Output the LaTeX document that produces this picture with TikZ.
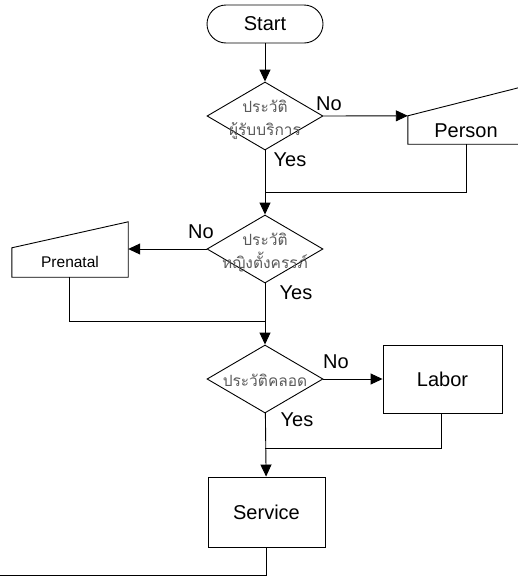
\documentclass[tikz,border=0pt]{standalone}
\usepackage{fontspec}
\setmainfont{Liberation Sans}
\newfontfamily\thaifont[Script=Thai]{Loma}
\usetikzlibrary{shapes.geometric,arrows.meta}
\definecolor{thaigray}{HTML}{5A5A5A}
\tikzset{
  every node/.style={font=\fontsize{20}{24}\selectfont},
  line/.style={draw=black, line width=0.9pt},
  flow/.style={line, -{Triangle[length=12pt,width=11pt]}},
  terminal/.style={draw, line width=0.9pt, rectangle, rounded corners=19pt,
    minimum width=116pt, minimum height=38pt, inner sep=0pt},
  decision/.style={draw, line width=0.9pt, diamond, minimum width=116pt,
    minimum height=68pt, inner sep=0pt},
  process/.style={draw, line width=0.9pt, rectangle, inner sep=0pt},
  manualarea/.style={rectangle, inner sep=0pt},
  thailabel/.style={font=\thaifont\fontsize{15.5}{23}\selectfont, text=thaigray,
    align=center, inner sep=0pt},
  branch/.style={inner sep=0pt},
}
\begin{document}
\begin{tikzpicture}[x=1pt, y=-1pt]
  \useasboundingbox (0,0) rectangle (518,576);

  % start terminal
  \node[terminal] (start) at (265,24) {Start};

  % first decision and the Person manual input
  \node[decision] (d1) at (265,116) {};
  \node[thailabel] (d1t) at (265,120) {ประวัติ\\ผู้รับบริการ};
  \node[manualarea, minimum width=122pt, minimum height=28pt] (person) at (469,130) {};
  \node (persont) at (466,131) {Person};
  \draw[line] (person.north east) ++(0,-31) coordinate (pne)
    (person.south east) -- (person.south west) -- (person.north west) -- (pne);

  % second decision and the Prenatal manual input
  \node[decision] (d2) at (265,249) {};
  \node[thailabel] (d2t) at (265,253) {ประวัติ\\หญิงตั้งครรภ์};
  \node[manualarea, minimum width=116pt, minimum height=29pt] (prenatal) at (70,262.5) {};
  \node[font=\fontsize{15.5}{18}\selectfont] (prenatalt) at (70,262) {Prenatal};
  \draw[line] (prenatal.north east) ++(0,-26) coordinate (prne)
    (prenatal.north west) -- (prenatal.south west) -- (prenatal.south east) -- (prne) -- cycle;

  % third decision and Labor
  \node[decision] (d3) at (265,379) {};
  \node[thailabel] (d3t) at (265,380) {ประวัติคลอด};
  \node[process, minimum width=119pt, minimum height=68pt] (labor) at (442.5,379) {Labor};

  % service
  \node[process, minimum width=117pt, minimum height=70pt] (service) at (266.5,512) {Service};

  % junction points on the main line
  \coordinate (j1) at (265,192);
  \coordinate (j2) at (265,321);
  \coordinate (j3) at (265,448);
  \coordinate (out) at (0,575);

  % main flow
  \draw[flow] (start) -- (d1);
  \draw[flow] (d1) -- (d2);
  \draw[flow] (d2) -- (d3);
  \draw[flow] (d3) -- (service);
  \draw[line] (service.south) |- (out);

  % No branches
  \draw[flow] (d1.east) -- (person.north west);
  \draw[flow] (d2.west) -- (d2.west -| prenatal.east);
  \draw[flow] (d3.east) -- (labor.west);

  % returns to the main line
  \draw[line] (persont.south -| person.south) ++(-3,0) coordinate (pb) (pb |- person.south) |- (j1);
  \draw[line] (prenatal.south) ++(-1,0) |- (j2);
  \draw[line] (labor.south) ++(-1.5,0) |- (j3);

  % branch labels
  \node[branch] (no1) at (329,104) {No};
  \node[branch] (yes1) at (290,160) {Yes};
  \node[branch] (no2) at (201,232) {No};
  \node[branch] (yes2) at (296,293) {Yes};
  \node[branch] (no3) at (336,362) {No};
  \node[branch] (yes3) at (297,420) {Yes};
\end{tikzpicture}
\end{document}
